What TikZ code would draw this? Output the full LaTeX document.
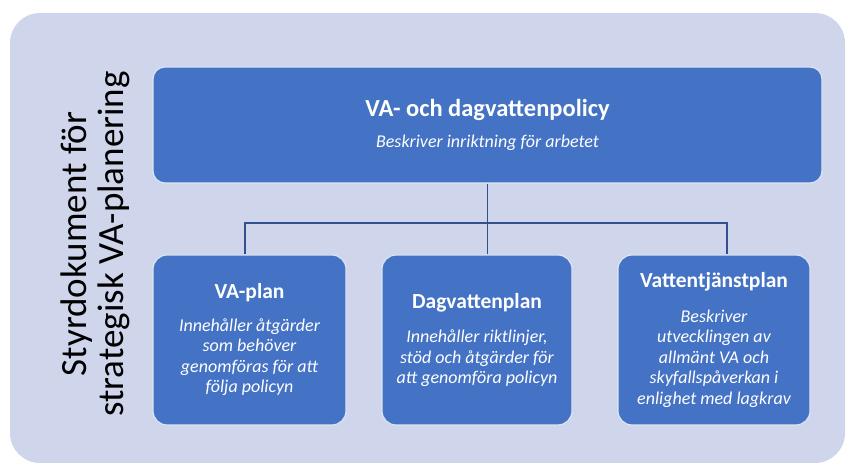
\documentclass[tikz,border=0pt]{standalone}
\usepackage{fontspec}
\setmainfont{Carlito}
\definecolor{panelbg}{HTML}{CFD5EA}
\definecolor{boxblue}{HTML}{4472C4}
\definecolor{boxedge}{HTML}{DDE4F4}
\definecolor{linkblue}{HTML}{34508C}
\newcommand\boxtitle{\fontsize{21.5}{24}\selectfont\bfseries\upshape}
\begin{document}
\begin{tikzpicture}[x=1pt,y=1pt,
  planbox/.style={draw=boxedge, line width=1.2pt, fill=boxblue, rounded corners=14pt, text=white, align=center, inner sep=0pt, minimum height=170pt, font=\fontsize{18}{20.5}\selectfont\itshape},
  link/.style={draw=linkblue, line width=1.3pt}]
\useasboundingbox (0,0) rectangle (846,468);
\fill[white] (0,0) rectangle (846,468);
\fill[panelbg, rounded corners=30pt] (10,5) rectangle (845,455);
\node[rotate=90, align=center, font=\fontsize{37}{37}\selectfont] (caption) at (95,224) {Styrdokument för\\strategisk VA-planering};
\node[planbox, minimum width=669pt, minimum height=116pt, rounded corners=12pt] (policy) at (487.5,343) {{\fontsize{24.5}{28}\selectfont\bfseries\upshape VA- och dagvattenpolicy}\\[11pt]Beskriver inriktning för arbetet};
\node[planbox, minimum width=193pt] (vaplan) at (249.5,128) {{\boxtitle VA-plan}\\[12pt]Innehåller åtgärder\\som behöver\\genomföras för att\\följa policyn};
\node[planbox, minimum width=190pt] (dagplan) at (477,128) {{\boxtitle Dagvattenplan}\\[14pt]Innehåller riktlinjer,\\stöd och åtgärder för\\att genomföra policyn};
\node[planbox, minimum width=192pt] (tjanstplan) at (714,128) {{\boxtitle Vattentjänstplan}\\[14pt]Beskriver\\utvecklingen av\\allmänt VA och\\skyfallspåverkan i\\enlighet med lagkrav};
\coordinate (fork) at (487.5,245);
\draw[link] (policy.south) -- (policy.south |- dagplan.north);
\draw[link] ([xshift=-4.5pt]vaplan.north) |- (fork) -| ([xshift=13pt]tjanstplan.north);
\end{tikzpicture}
\end{document}
